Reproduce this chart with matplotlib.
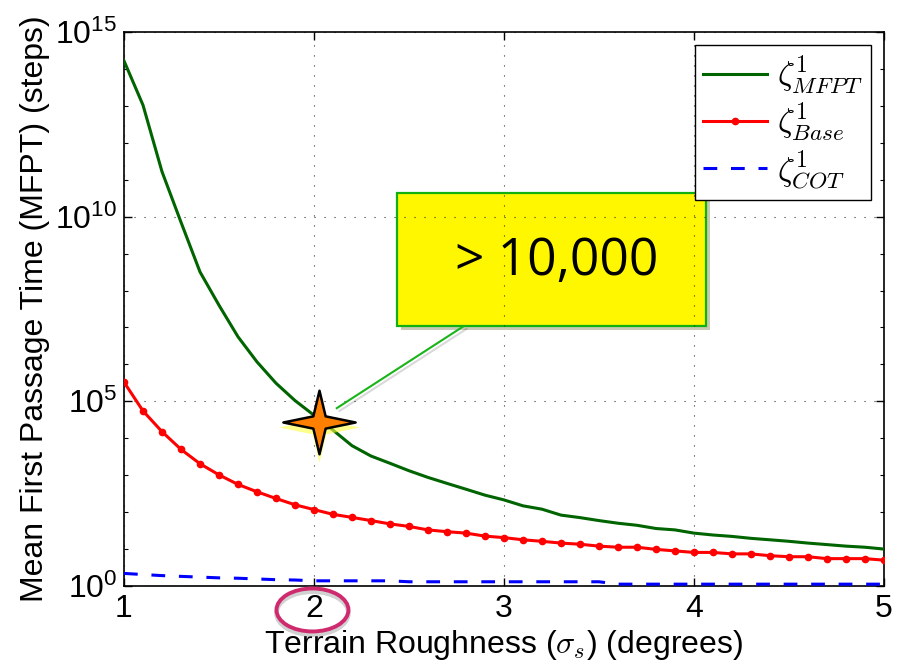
import matplotlib
matplotlib.use("Agg")
import matplotlib.pyplot as plt
import matplotlib.patheffects as pe
from matplotlib.patches import Rectangle, Ellipse
from matplotlib.path import Path
from matplotlib.ticker import LogLocator, FixedLocator, NullFormatter
from matplotlib.transforms import offset_copy

# --- data ---
roughness = [1.0, 1.1, 1.2, 1.3, 1.4, 1.5, 1.6, 1.7, 1.8, 1.9,
             2.0, 2.1, 2.2, 2.3, 2.4, 2.5, 2.6, 2.7, 2.8, 2.9,
             3.0, 3.1, 3.2, 3.3, 3.4, 3.5, 3.6, 3.7, 3.8, 3.9,
             4.0, 4.1, 4.2, 4.3, 4.4, 4.5, 4.6, 4.7, 4.8, 4.9, 5.0]

mfpt_zeta_mfpt = [1.66e14, 1.05e13, 1.66e11, 7.1e9, 3.2e8, 4.0e7, 5.6e6, 1.17e6, 3.1e5, 1.05e5,
                  4.2e4, 1.66e4, 6300, 3300, 2100, 1320, 870, 600, 417, 288,
                  214, 148, 120, 83, 71, 59, 50, 44, 36, 33,
                  27, 24, 22, 19.5, 17.8, 16.2, 14.5, 13.2, 12.0, 11.2, 10.0]

mfpt_zeta_base = [3.31e5, 5.5e4, 1.51e4, 5000, 2040, 1020, 562, 355, 234, 158,
                  117, 87, 72, 59, 48, 41, 33, 29.5, 27, 22.4,
                  20.4, 17.8, 16.2, 14.5, 13.5, 12.0, 11.2, 11.2, 9.8, 8.9,
                  8.1, 8.1, 7.4, 7.4, 6.6, 6.2, 6.2, 5.5, 5.5, 5.5, 5.0]

mfpt_zeta_cot = [2.19, 2.04, 1.91, 1.82, 1.74, 1.66, 1.62, 1.55, 1.48, 1.45,
                 1.38, 1.38, 1.38, 1.38, 1.38, 1.30, 1.30, 1.30, 1.30, 1.30,
                 1.30, 1.30, 1.30, 1.30, 1.30, 1.30, 1.12, 1.12, 1.12, 1.12,
                 1.12, 1.12, 1.12, 1.12, 1.12, 1.12, 1.12, 1.12, 1.12, 1.12, 1.12]

x_ticks = [1, 2, 3, 4, 5]
y_ticks = [1e0, 1e5, 1e10, 1e15]
callout_text = "> 10,000"
star_x, star_y = 2.025, 10 ** 4.45

plt.rcParams['font.family'] = ['Liberation Sans', 'DejaVu Sans']
plt.rcParams['mathtext.fontset'] = 'cm'

fig = plt.figure(figsize=(9.07, 6.64), dpi=100)
ax = fig.add_axes([0.1367, 0.1175, 0.8379, 0.8343])

ax.plot(roughness, mfpt_zeta_mfpt, color='#006400', lw=2.2,
        label=r'$\zeta^1_{MFPT}$', zorder=3)
ax.plot(roughness, mfpt_zeta_base, color='#ff0000', lw=2.2, marker='o',
        markersize=4.5, label=r'$\zeta^1_{Base}$', zorder=3)
ax.plot(roughness, mfpt_zeta_cot, color='#0000ff', lw=2.2, dashes=(4.5, 4.5),
        label=r'$\zeta^1_{COT}$', zorder=3)

ax.set_yscale('log')
ax.set_xlim(1, 5)
ax.set_ylim(1e0, 1e15)
ax.xaxis.set_major_locator(FixedLocator(x_ticks))
ax.yaxis.set_major_locator(FixedLocator(y_ticks))
ax.yaxis.set_minor_locator(LogLocator(base=10, subs=(1.0,), numticks=30))
ax.yaxis.set_minor_formatter(NullFormatter())
ax.tick_params(which='both', direction='in', top=True, right=True, labelsize=23)
ax.tick_params(which='major', length=6, width=1)
ax.tick_params(which='minor', length=3, width=0.8)
ax.tick_params(axis='x', pad=6)
ax.tick_params(axis='y', pad=5)
for s in ax.spines.values():
    s.set_linewidth(1.2)

ax.grid(True, which='major', color='#333333', lw=0.8, linestyle=(0, (1, 8)))

ax.set_xlabel(r'Terrain Roughness ($\sigma_s$) (degrees)', fontsize=23, labelpad=3)
ax.set_ylabel('Mean First Passage Time (MFPT) (steps)', fontsize=23, labelpad=4)

leg = ax.legend(loc='upper right', fontsize=24, handlelength=1.9, handletextpad=0.3,
                fancybox=False, framealpha=1, edgecolor='black', borderpad=0.25,
                labelspacing=0.12, borderaxespad=0.4)
leg.get_frame().set_linewidth(1.0)

# --- callout box and leader line ---
box = Rectangle((0.359, 0.469), 0.407, 0.240, transform=ax.transAxes,
                facecolor='#fff700', edgecolor='#10b010', lw=1.6, zorder=1)
box.set_path_effects([pe.SimplePatchShadow(offset=(3, -3), alpha=0.3), pe.Normal()])
ax.add_patch(box)
ax.text(0.570, 0.585, callout_text, transform=ax.transAxes, fontsize=37,
        family=['Open Sans', 'DejaVu Sans'], ha='center', va='center', zorder=4)
ax.plot([0.447, 0.280], [0.469, 0.321], transform=ax.transAxes, color='#19b419',
        lw=1.5, zorder=4,
        path_effects=[pe.SimpleLineShadow(offset=(2, -2), alpha=0.15), pe.Normal()])

# --- four-pointed star marker ---
r_in = 0.17
star_verts = [(0, 0.88), (r_in, r_in), (1, 0), (r_in, -r_in), (0, -0.88),
              (-r_in, -r_in), (-1, 0), (-r_in, r_in), (0, 0.88)]
star = Path(star_verts, [Path.MOVETO] + [Path.LINETO] * 7 + [Path.CLOSEPOLY])
glow_tr = offset_copy(ax.transData, fig=fig, x=0, y=-4, units='points')
ax.plot([star_x], [star_y], marker=star, markersize=58, color='#ffff40',
        markeredgewidth=0, alpha=0.6, transform=glow_tr, zorder=5, clip_on=False)
ax.plot([star_x], [star_y], marker=star, markersize=52, markerfacecolor='#ff8000',
        markeredgecolor='black', markeredgewidth=1.8, zorder=6, clip_on=False)

# --- ellipse around tick label "2" (with a soft shadow ring) ---
ell_center = (0.248, -0.0433)
ell_shadow = Ellipse((ell_center[0], ell_center[1] - 0.006), 0.0947, 0.0776,
                     transform=ax.transAxes, fill=False, edgecolor='#999999',
                     lw=3.2, alpha=0.45, clip_on=False, zorder=4)
ax.add_patch(ell_shadow)
ell = Ellipse(ell_center, 0.0947, 0.0776, transform=ax.transAxes,
              fill=False, edgecolor='#d02a6e', lw=2.8, clip_on=False, zorder=5)
ax.add_patch(ell)

fig.savefig('out.png', dpi=100)
